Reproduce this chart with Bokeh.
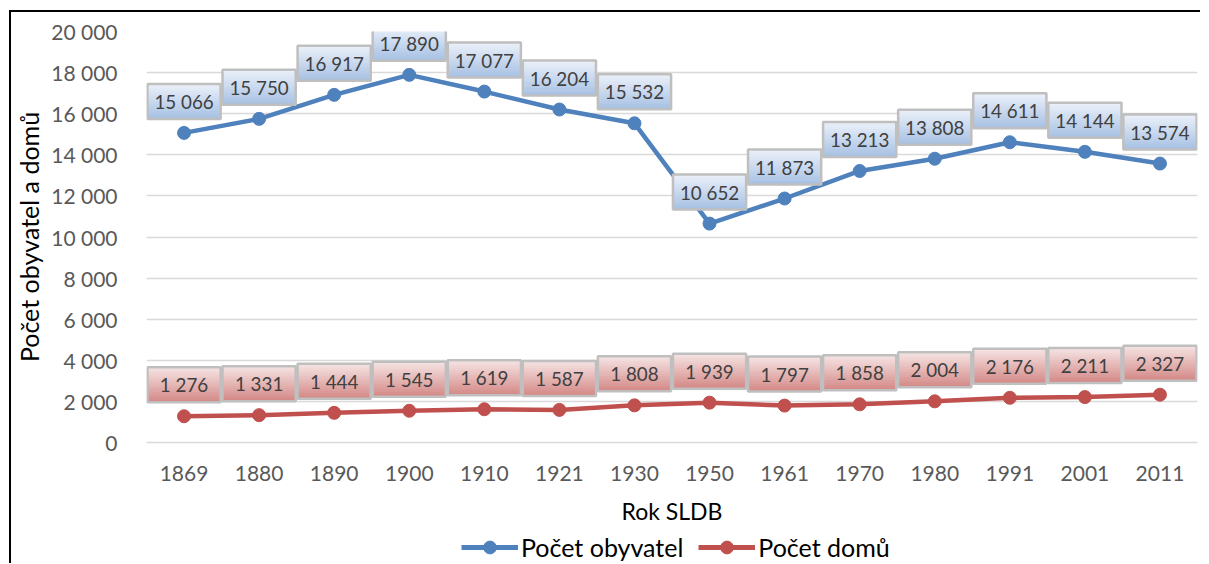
from bokeh.plotting import figure
from bokeh.layouts import column
from bokeh.models import FixedTicker, Legend, LegendItem, Range1d
from bokeh.embed import file_html
from bokeh.resources import INLINE
from bokeh.core.properties import value

years = ["1869", "1880", "1890", "1900", "1910", "1921", "1930",
         "1950", "1961", "1970", "1980", "1991", "2001", "2011"]
obyvatel = [15066, 15750, 16917, 17890, 17077, 16204, 15532,
            10652, 11873, 13213, 13808, 14611, 14144, 13574]
domy = [1276, 1331, 1444, 1545, 1619, 1587, 1808,
        1939, 1797, 1858, 2004, 2176, 2211, 2327]
y_ticks = list(range(0, 20001, 2000))
series_names = ["Počet obyvatel", "Počet domů"]

FNAME = "Lato"
FONT = value(FNAME)
W, H = 1189, 515
FL, FT, FW, FH = 128, 19, 1058, 411
YMAX = 20000
PX = YMAX / FH  # data units per pixel

p = figure(width=W, height=H, x_range=years, y_range=Range1d(0, YMAX),
           output_backend="svg", toolbar_location=None,
           min_border_left=FL, min_border_top=FT,
           min_border_right=W - FL - FW, min_border_bottom=H - FT - FH)
p.outline_line_color = None
p.background_fill_color = "white"


def fmt(v):
    return f"{v:,}".replace(",", " ")


# axes
p.yaxis.ticker = FixedTicker(ticks=y_ticks)
p.yaxis.major_label_overrides = {t: fmt(t) for t in y_ticks}
p.yaxis.axis_line_color = None
p.yaxis.major_tick_line_color = None
p.yaxis.minor_tick_line_color = None
p.yaxis.major_label_standoff = 23
p.yaxis.major_label_text_font = FNAME
p.yaxis.major_label_text_font_size = "21px"
p.yaxis.major_label_text_color = "#595959"
p.yaxis.axis_label = "Počet obyvatel a domů"
p.yaxis.axis_label_text_font = FNAME
p.yaxis.axis_label_text_font_size = "25px"
p.yaxis.axis_label_text_font_style = "normal"
p.yaxis.axis_label_text_color = "black"
p.yaxis.axis_label_standoff = 4

p.xaxis.axis_line_color = "#d9d9d9"
p.xaxis.axis_line_width = 1.5
p.xaxis.major_tick_line_color = None
p.xaxis.minor_tick_line_color = None
p.xaxis.major_label_standoff = 17
p.xaxis.major_label_text_font = FNAME
p.xaxis.major_label_text_font_size = "21px"
p.xaxis.major_label_text_color = "#595959"
p.xaxis.axis_label = "Rok SLDB"
p.xaxis.axis_label_text_font = FNAME
p.xaxis.axis_label_text_font_size = "23px"
p.xaxis.axis_label_text_font_style = "normal"
p.xaxis.axis_label_text_color = "black"
p.xaxis.axis_label_standoff = 13

p.xgrid.grid_line_color = None
p.ygrid.grid_line_color = "#d9d9d9"
p.ygrid.grid_line_width = 1.3

BLUE = "#4f81bd"
RED = "#c0504d"
LW, MS = 4.5, 13

p.line(years, obyvatel, line_color=BLUE, line_width=LW)
p.scatter(years, obyvatel, size=MS, fill_color=BLUE, line_color=BLUE)
p.line(years, domy, line_color=RED, line_width=LW)
p.scatter(years, domy, size=MS, fill_color=RED, line_color=RED)


def lerp(c1, c2, t):
    a = [int(c1[i:i + 2], 16) for i in (1, 3, 5)]
    b = [int(c2[i:i + 2], 16) for i in (1, 3, 5)]
    return "#%02x%02x%02x" % tuple(round(a[k] + (b[k] - a[k]) * t) for k in range(3))


BOX_H = 35
BOX_GAP = 14
NSTRIP = 14


def labels(vals, ctop, cbot):
    strip_h = BOX_H / NSTRIP
    for k in range(NSTRIP):
        off = BOX_GAP + BOX_H - (k + 0.5) * strip_h
        col = lerp(ctop, cbot, k / (NSTRIP - 1))
        p.rect(x=years, y=[v + off * PX for v in vals], width=0.975,
               height=strip_h + 0.7, height_units="screen",
               fill_color=col, line_color=None)
    cy = [v + (BOX_GAP + BOX_H / 2) * PX for v in vals]
    p.rect(x=years, y=cy, width=0.975, height=BOX_H, height_units="screen",
           fill_color=None, line_color="#bfbfbf", line_width=2.5)
    p.text(x=years, y=cy, text=[fmt(v) for v in vals], text_font=FONT,
           text_font_size="18.8px", text_color="#404040",
           text_align="center", text_baseline="middle")


labels(obyvatel, "#eaf0f9", "#a9c2e4")
labels(domy, "#f5e3e2", "#d48b89")

# legend strip: same series drawn into a range that shows none of them,
# so that only the legend keys appear
pl = figure(width=W, height=36, x_range=years, y_range=Range1d(-2, -1),
            output_backend="svg", toolbar_location=None, min_border=0)
pl.axis.visible = False
pl.grid.visible = False
pl.outline_line_color = None
items = []
for name, vals, col in zip(series_names, [obyvatel, domy], [BLUE, RED]):
    lr = pl.line(years, vals, line_color=col, line_width=LW + 0.5)
    sr = pl.scatter(years, vals, size=MS, fill_color=col, line_color=col)
    items.append(LegendItem(label=name, renderers=[lr, sr]))

legend = Legend(items=items, orientation="horizontal", location=(315, 0),
                glyph_width=57, glyph_height=32, label_height=32,
                label_standoff=3, spacing=15,
                padding=0, margin=0, border_line_color=None,
                background_fill_alpha=0,
                label_text_font=FNAME, label_text_font_size="25px",
                label_text_color="black")
pl.add_layout(legend, "center")

layout = column(p, pl, spacing=0,
                styles={"margin-left": "9px", "margin-top": "10px",
                        "border-left": "2.5px solid black",
                        "border-top": "2.5px solid black"})

open("out.html", "w").write(file_html(layout, INLINE))
